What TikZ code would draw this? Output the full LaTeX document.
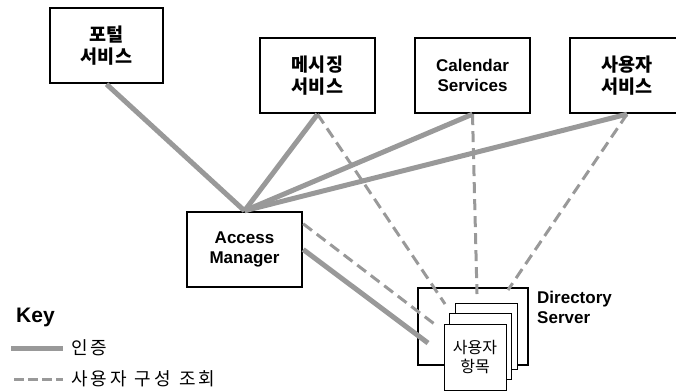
\documentclass[tikz,border=0pt]{standalone}
\usepackage{fontspec}
\setmainfont{Liberation Sans}
\newfontfamily\kr{Noto Sans CJK KR}
\definecolor{lgray}{gray}{0.6}
\begin{document}
\begin{tikzpicture}[x=1pt,y=-1pt,
  box/.style={draw=black, line width=2.4pt, fill=white, rectangle, inner sep=0pt, align=center,
    minimum width=114pt, minimum height=75pt, font=\bfseries\fontsize{17}{20}\selectfont},
  krbox/.style={box, font=\kr\bfseries\fontsize{18.5}{22}\selectfont},
  page/.style={draw=black, line width=0.9pt, fill=white, rectangle, minimum width=62pt, minimum height=66pt, inner sep=0pt, align=center},
  auth/.style={draw=lgray, line width=5pt},
  lookup/.style={draw=lgray, line width=3pt, dash pattern=on 11pt off 6pt},
  keylookup/.style={draw=lgray, line width=3pt, dash pattern=on 10pt off 4pt},
  keytext/.style={anchor=west, inner sep=0pt, font=\kr\fontsize{18}{20}\selectfont\addfontfeature{LetterSpace=17}},
]
\useasboundingbox (0,0) rectangle (676,391);

% boxes
\node[krbox, minimum width=113pt] (portal) at (106.5,45.5) {포털\\서비스};
\node[krbox, minimum width=115pt] (msg) at (317.5,75.5) {메시징\\서비스};
\node[box, minimum width=115pt] (cal) at (472.5,75.5) {Calendar\\Services};
\node[krbox, minimum width=114pt] (usr) at (627,75.5) {사용자\\서비스};
\node[box, minimum width=115pt] (am) at (244.5,249.5) {Access\\Manager};
\node[box, minimum width=110pt, minimum height=77pt] (ds) at (473,326.5) {};
\node[anchor=base west, inner sep=0pt, font=\bfseries\fontsize{17}{20}\selectfont, align=left] (dslabel) at (537,323) {Directory\\Server};

% connector end points inside the directory server
\coordinate (dsAuth) at (428,343);
\coordinate (dsAm) at (437,326);
\coordinate (dsMsg) at (445,304);
\coordinate (dsCal) at (477,294);
\coordinate (dsUsr) at (508,290);

% authentication
\draw[auth] (portal.south) -- (am.north);
\draw[auth] (msg.south) -- (am.north);
\draw[auth] (cal.south) -- (am.north);
\draw[auth] (usr.south) -- (am.north);
\draw[auth] (am.east) -- (dsAuth);

% lookups
\draw[lookup] ([yshift=-13pt]am.north east) -- (dsAm);
\draw[lookup] (msg.south) -- (dsMsg);
\draw[lookup] (cal.south) -- (dsCal);
\draw[lookup] (usr.south) -- (dsUsr);

% stacked user entries
\node[page] (p3) at (486,336) {};
\node[page] (p2) at (480,346) {};
\node[page, font=\kr\fontsize{16}{18}\selectfont] (p1) at (475,357) {사용자\\항목};

% key
\node[anchor=base west, inner sep=0pt, font=\bfseries\fontsize{21}{25}\selectfont] (key) at (16,322) {Key};
\coordinate (k1a) at (11,348);
\coordinate (k1b) at (63,348);
\coordinate (k2a) at (14,379);
\coordinate (k2b) at (63,379);
\draw[auth] (k1a) -- (k1b);
\draw[keylookup] (k2a) -- (k2b);
\node[keytext] (l1) at (71,348) {인증};
\node[keytext] (l2) at (71,379) {사용자\hspace{8pt}구성\hspace{8pt}조회};
\end{tikzpicture}
\end{document}
